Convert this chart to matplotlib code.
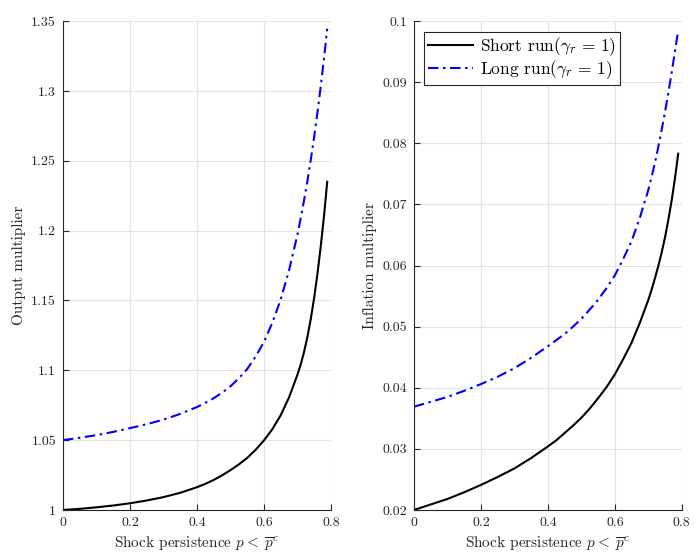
import numpy as np
import matplotlib
matplotlib.use("Agg")
import matplotlib.pyplot as plt
from matplotlib.ticker import FuncFormatter

# LaTeX-like look
plt.rcParams["font.family"] = "serif"
plt.rcParams["font.serif"] = ["cmr10"]
plt.rcParams["mathtext.fontset"] = "cm"
plt.rcParams["axes.formatter.use_mathtext"] = True

# Shock persistence grid
p = [0, 0.05, 0.1, 0.15, 0.2, 0.25, 0.3, 0.35, 0.4, 0.425, 0.45, 0.475,
     0.5, 0.525, 0.55, 0.575, 0.6, 0.625, 0.65, 0.675, 0.7, 0.71, 0.72,
     0.73, 0.74, 0.75, 0.76, 0.77, 0.78, 0.789]

# Output multiplier
output_short = [1.0000, 1.0008, 1.0019, 1.0032, 1.0048, 1.0068, 1.0092, 1.0123,
                1.0163, 1.0187, 1.0215, 1.0248, 1.0285, 1.0326, 1.0373, 1.0430,
                1.0498, 1.0578, 1.0678, 1.0806, 1.0968, 1.1043, 1.1133, 1.1241,
                1.1369, 1.1519, 1.1694, 1.1894, 1.2119, 1.2350]
output_long = [1.0500, 1.0517, 1.0536, 1.0559, 1.0586, 1.0614, 1.0647, 1.0688,
               1.0737, 1.0767, 1.0800, 1.0840, 1.0885, 1.0943, 1.1009, 1.1098,
               1.1202, 1.1340, 1.1506, 1.1716, 1.1970, 1.2090, 1.2219, 1.2358,
               1.2509, 1.2672, 1.2849, 1.3040, 1.3246, 1.3446]

# Inflation multiplier
infl_short = [0.0200, 0.0209, 0.0218, 0.0229, 0.0241, 0.0254, 0.0268, 0.0285,
              0.0304, 0.0314, 0.0326, 0.0338, 0.0351, 0.0366, 0.0383, 0.0401,
              0.0422, 0.0447, 0.0474, 0.0507, 0.0544, 0.0561, 0.0580, 0.0600,
              0.0622, 0.0647, 0.0676, 0.0708, 0.0745, 0.0783]
infl_long = [0.0369, 0.0377, 0.0385, 0.0395, 0.0406, 0.0418, 0.0432, 0.0449,
             0.0468, 0.0478, 0.0488, 0.0500, 0.0513, 0.0528, 0.0544, 0.0563,
             0.0584, 0.0611, 0.0640, 0.0679, 0.0724, 0.0746, 0.0769, 0.0795,
             0.0823, 0.0852, 0.0884, 0.0917, 0.0953, 0.0985]

x_ticks = [0, 0.2, 0.4, 0.6, 0.8]
out_ticks = [1, 1.05, 1.1, 1.15, 1.2, 1.25, 1.3, 1.35]
infl_ticks = [0.02, 0.03, 0.04, 0.05, 0.06, 0.07, 0.08, 0.09, 0.1]

xlabel = r"Shock persistence $p<\;\overline{p}^c$"
dashdot = (0, (5, 2.2, 1.2, 2.2))
txt = "#262626"

fig = plt.figure(figsize=(6.94, 5.53), dpi=100)
ax1 = fig.add_axes([0.0908, 0.0778, 0.386, 0.884])
ax2 = fig.add_axes([0.5965, 0.0778, 0.386, 0.884])

gfmt = FuncFormatter(lambda v, pos: "%g" % round(v, 4))


def style(ax, yticks):
    ax.set_xlim(0, 0.8)
    ax.set_ylim(yticks[0], yticks[-1])
    ax.set_xticks(x_ticks)
    ax.set_yticks(yticks)
    ax.xaxis.set_major_formatter(gfmt)
    ax.yaxis.set_major_formatter(gfmt)
    ax.grid(True, color="#e3e3e3", linewidth=0.8)
    ax.set_axisbelow(True)
    for s in ["top", "right"]:
        ax.spines[s].set_visible(False)
    for s in ["left", "bottom"]:
        ax.spines[s].set_color(txt)
        ax.spines[s].set_linewidth(0.8)
    ax.tick_params(direction="in", length=4, width=0.8, colors=txt,
                   labelsize=10, labelcolor=txt, pad=5)
    ax.set_xlabel(xlabel, fontsize=11, color=txt)


ax1.plot(p, output_short, color="black", linewidth=1.5, solid_joinstyle="round")
ax1.plot(p, output_long, color="blue", linewidth=1.5, linestyle=dashdot)
style(ax1, out_ticks)
ax1.set_ylabel("Output multiplier", fontsize=11, color=txt)

ax2.plot(p, infl_short, color="black", linewidth=1.5, solid_joinstyle="round",
         label=r"Short run$(\gamma_r\,=\,1)$")
ax2.plot(p, infl_long, color="blue", linewidth=1.5, linestyle=dashdot,
         label=r"Long run$(\gamma_r\,=\,1)$")
style(ax2, infl_ticks)
ax2.set_ylabel("Inflation multiplier", fontsize=11, color=txt)
leg = ax2.legend(loc="upper left", fontsize=12.5, fancybox=False, framealpha=1,
                 edgecolor=txt, borderaxespad=0.6, handlelength=2.6,
                 borderpad=0.2, labelspacing=0.05, handletextpad=0.4)
leg.get_frame().set_linewidth(0.8)

fig.savefig("out.png", dpi=100)
